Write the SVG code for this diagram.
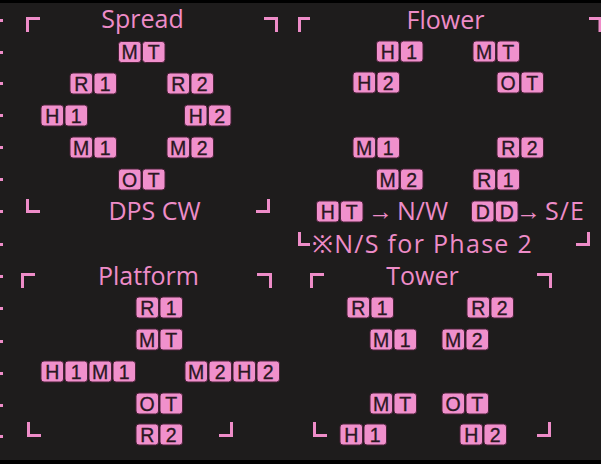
<svg xmlns="http://www.w3.org/2000/svg" width="601" height="464" viewBox="0 0 601 464">
<style>
.t{font-family:"Open Sans","Noto Sans",sans-serif;font-size:25px;fill:#ee8cc8;text-anchor:middle}
.s{font-family:"Open Sans","Noto Sans",sans-serif;font-size:25px;fill:#ee8cc8}
.c{fill:none;stroke:#ee8cc8;stroke-width:3;stroke-linecap:square}
.b use{fill:#f090cc;stroke:#4a2038;stroke-width:1}
.b text{font-family:"Liberation Sans","DejaVu Sans",sans-serif;font-size:19.5px;fill:#2a1722;text-anchor:middle;stroke:#2a1722;stroke-width:0.3}
.d{fill:#ee8cc8}
</style>
<defs>
<rect id="bx" x="0" y="0" width="22.5" height="21" rx="3"/>
</defs>
<rect width="601" height="464" fill="#1e1c1c"/>
<rect width="601" height="3" fill="#000"/>
<rect y="460" width="601" height="4" fill="#000"/>
<g id="edge-dots">
<rect class="d" x="0" y="19" width="3" height="3"/>
<rect class="d" x="0" y="51" width="3" height="3"/>
<rect class="d" x="0" y="82" width="3" height="3"/>
<rect class="d" x="0" y="114" width="3" height="3"/>
<rect class="d" x="0" y="146" width="3" height="3"/>
<rect class="d" x="0" y="178" width="3" height="3"/>
<rect class="d" x="0" y="210" width="3" height="3"/>
<rect class="d" x="0" y="243" width="3" height="3"/>
<rect class="d" x="0" y="275" width="3" height="3"/>
<rect class="d" x="0" y="307" width="3" height="3"/>
<rect class="d" x="0" y="340" width="3" height="3"/>
<rect class="d" x="0" y="372" width="3" height="3"/>
<rect class="d" x="0" y="404" width="3" height="3"/>
<rect class="d" x="0" y="435" width="3" height="3"/>
</g>

<g id="spread">
<text class="t" x="142.5" y="28">Spread</text>
<text class="t" x="154.5" y="220">DPS CW</text>
<path class="c" d="M27.5,30.5V18.5H38.5M265.5,18.5H276.5V30.5M27.5,200.5V211.5H38.5M268.5,200.5V211.5H257.5"/>
<g class="b" id="sp-mt" transform="translate(118.5,41.5)"><use href="#bx"/><use href="#bx" x="24"/><text x="11.2" y="17.5">M</text><text x="35.2" y="17.5">T</text></g>
<g class="b" id="sp-r1" transform="translate(70,73)"><use href="#bx"/><use href="#bx" x="24"/><text x="11.2" y="17.5">R</text><text x="35.2" y="17.5">1</text></g>
<g class="b" id="sp-r2" transform="translate(167,73)"><use href="#bx"/><use href="#bx" x="24"/><text x="11.2" y="17.5">R</text><text x="35.2" y="17.5">2</text></g>
<g class="b" id="sp-h1" transform="translate(41,105)"><use href="#bx"/><use href="#bx" x="24"/><text x="11.2" y="17.5">H</text><text x="35.2" y="17.5">1</text></g>
<g class="b" id="sp-h2" transform="translate(184.5,105)"><use href="#bx"/><use href="#bx" x="24"/><text x="11.2" y="17.5">H</text><text x="35.2" y="17.5">2</text></g>
<g class="b" id="sp-m1" transform="translate(70,137)"><use href="#bx"/><use href="#bx" x="24"/><text x="11.2" y="17.5">M</text><text x="35.2" y="17.5">1</text></g>
<g class="b" id="sp-m2" transform="translate(167,137)"><use href="#bx"/><use href="#bx" x="24"/><text x="11.2" y="17.5">M</text><text x="35.2" y="17.5">2</text></g>
<g class="b" id="sp-ot" transform="translate(118.5,169)"><use href="#bx"/><use href="#bx" x="24"/><text x="11.2" y="17.5">O</text><text x="35.2" y="17.5">T</text></g>
</g>

<g id="flower">
<text class="t" x="445.5" y="29">Flower</text>
<path class="c" d="M299.5,30.5V18.5H308.5M590.5,18.5H600V30.5M588.5,233.5V244.5H577.5M299.5,233.5V244.5H308.5"/>
<g class="b" id="fl-h1" transform="translate(376.5,41)"><use href="#bx"/><use href="#bx" x="24"/><text x="11.2" y="17.5">H</text><text x="35.2" y="17.5">1</text></g>
<g class="b" id="fl-mt" transform="translate(473,41)"><use href="#bx"/><use href="#bx" x="24"/><text x="11.2" y="17.5">M</text><text x="35.2" y="17.5">T</text></g>
<g class="b" id="fl-h2" transform="translate(353,72)"><use href="#bx"/><use href="#bx" x="24"/><text x="11.2" y="17.5">H</text><text x="35.2" y="17.5">2</text></g>
<g class="b" id="fl-ot" transform="translate(497,72)"><use href="#bx"/><use href="#bx" x="24"/><text x="11.2" y="17.5">O</text><text x="35.2" y="17.5">T</text></g>
<g class="b" id="fl-m1" transform="translate(353,137)"><use href="#bx"/><use href="#bx" x="24"/><text x="11.2" y="17.5">M</text><text x="35.2" y="17.5">1</text></g>
<g class="b" id="fl-r2" transform="translate(497,137)"><use href="#bx"/><use href="#bx" x="24"/><text x="11.2" y="17.5">R</text><text x="35.2" y="17.5">2</text></g>
<g class="b" id="fl-m2" transform="translate(376.5,169)"><use href="#bx"/><use href="#bx" x="24"/><text x="11.2" y="17.5">M</text><text x="35.2" y="17.5">2</text></g>
<g class="b" id="fl-r1" transform="translate(473,169)"><use href="#bx"/><use href="#bx" x="24"/><text x="11.2" y="17.5">R</text><text x="35.2" y="17.5">1</text></g>
<g class="b" id="fl-ht" transform="translate(316.5,201)"><use href="#bx"/><use href="#bx" x="24"/><text x="11.2" y="17.5">H</text><text x="35.2" y="17.5">T</text></g>
<text class="s" y="220"><tspan x="368">→</tspan><tspan x="397">N/W</tspan></text>
<g class="b" id="fl-dd" transform="translate(471.5,201)"><use href="#bx"/><use href="#bx" x="24"/><text x="11.2" y="17.5">D</text><text x="35.2" y="17.5">D</text></g>
<text class="s" y="220"><tspan x="516">→</tspan><tspan x="545" letter-spacing="1">S/E</tspan></text>
<text class="s" x="312" y="253" letter-spacing="1.3">※N/S for Phase 2</text>
</g>

<g id="platform">
<text class="t" x="148.5" y="285">Platform</text>
<path class="c" d="M22.5,286.5V274.5H33.5M258.5,274.5H270.5V286.5M28.5,423.5V435.5H39.5M231.5,423.5V435.5H220.5"/>
<g class="b" id="pl-r1" transform="translate(136,297)"><use href="#bx"/><use href="#bx" x="24"/><text x="11.2" y="17.5">R</text><text x="35.2" y="17.5">1</text></g>
<g class="b" id="pl-mt" transform="translate(136,329)"><use href="#bx"/><use href="#bx" x="24"/><text x="11.2" y="17.5">M</text><text x="35.2" y="17.5">T</text></g>
<g class="b" id="pl-h1m1" transform="translate(41,361)"><use href="#bx"/><use href="#bx" x="24"/><use href="#bx" x="48"/><use href="#bx" x="72"/><text x="11.2" y="17.5">H</text><text x="35.2" y="17.5">1</text><text x="59.2" y="17.5">M</text><text x="83.2" y="17.5">1</text></g>
<g class="b" id="pl-m2h2" transform="translate(185,361)"><use href="#bx"/><use href="#bx" x="24"/><use href="#bx" x="48"/><use href="#bx" x="72"/><text x="11.2" y="17.5">M</text><text x="35.2" y="17.5">2</text><text x="59.2" y="17.5">H</text><text x="83.2" y="17.5">2</text></g>
<g class="b" id="pl-ot" transform="translate(136,393)"><use href="#bx"/><use href="#bx" x="24"/><text x="11.2" y="17.5">O</text><text x="35.2" y="17.5">T</text></g>
<g class="b" id="pl-r2" transform="translate(136,424)"><use href="#bx"/><use href="#bx" x="24"/><text x="11.2" y="17.5">R</text><text x="35.2" y="17.5">2</text></g>
</g>

<g id="tower">
<text class="t" x="422.5" y="285">Tower</text>
<path class="c" d="M311.5,286.5V274.5H322.5M538.5,274.5H550.5V286.5M314.5,423.5V435.5H325.5M549.5,423.5V435.5H538.5"/>
<g class="b" id="tw-r1" transform="translate(347,297)"><use href="#bx"/><use href="#bx" x="24"/><text x="11.2" y="17.5">R</text><text x="35.2" y="17.5">1</text></g>
<g class="b" id="tw-r2" transform="translate(467,297)"><use href="#bx"/><use href="#bx" x="24"/><text x="11.2" y="17.5">R</text><text x="35.2" y="17.5">2</text></g>
<g class="b" id="tw-m1" transform="translate(370,329)"><use href="#bx"/><use href="#bx" x="24"/><text x="11.2" y="17.5">M</text><text x="35.2" y="17.5">1</text></g>
<g class="b" id="tw-m2" transform="translate(442,329)"><use href="#bx"/><use href="#bx" x="24"/><text x="11.2" y="17.5">M</text><text x="35.2" y="17.5">2</text></g>
<g class="b" id="tw-mt" transform="translate(370,393)"><use href="#bx"/><use href="#bx" x="24"/><text x="11.2" y="17.5">M</text><text x="35.2" y="17.5">T</text></g>
<g class="b" id="tw-ot" transform="translate(442,393)"><use href="#bx"/><use href="#bx" x="24"/><text x="11.2" y="17.5">O</text><text x="35.2" y="17.5">T</text></g>
<g class="b" id="tw-h1" transform="translate(340,424)"><use href="#bx"/><use href="#bx" x="24"/><text x="11.2" y="17.5">H</text><text x="35.2" y="17.5">1</text></g>
<g class="b" id="tw-h2" transform="translate(460,424)"><use href="#bx"/><use href="#bx" x="24"/><text x="11.2" y="17.5">H</text><text x="35.2" y="17.5">2</text></g>
</g>
</svg>
